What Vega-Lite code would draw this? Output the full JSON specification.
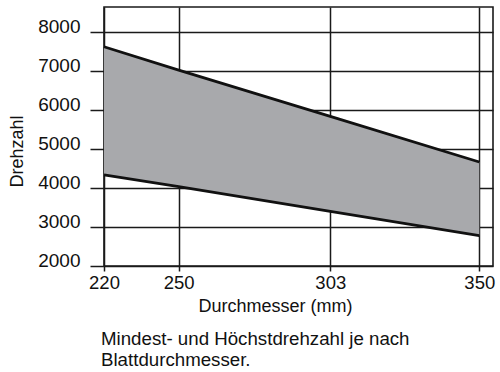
{
  "$schema": "https://vega.github.io/schema/vega-lite/v6.json",
  "width": 389,
  "height": 259,
  "autosize": {"type": "none"},
  "padding": {"left": 104, "top": 7, "right": 7, "bottom": 106},
  "background": "white",
  "config": {
    "view": {"stroke": "#1a1a1a", "strokeWidth": 1.6},
    "font": "Liberation Sans"
  },
  "title": {
    "text": ["Mindest- und Höchstdrehzahl je nach", "Blattdurchmesser."],
    "orient": "bottom",
    "anchor": "start",
    "frame": "group",
    "font": "Liberation Sans",
    "fontSize": 18.7,
    "fontWeight": "normal",
    "lineHeight": 21,
    "color": "#111111",
    "offset": 15,
    "dx": -3
  },
  "data": {
    "values": [
      {"d": 220, "min": 4340, "max": 7630},
      {"d": 250, "min": 4040, "max": 7030},
      {"d": 303, "min": 3400, "max": 5840},
      {"d": 350, "min": 2780, "max": 4670}
    ]
  },
  "encoding": {
    "x": {
      "field": "d",
      "type": "quantitative",
      "scale": {"type": "linear", "domain": [220, 250, 303, 350, 354.7], "range": [0, 74.7, 226.3, 375.3, 389], "nice": false, "zero": false},
      "axis": {
        "values": [220, 250, 303, 350],
        "format": "d",
        "grid": true,
        "gridColor": "#1a1a1a",
        "gridWidth": 1.5,
        "gridOpacity": 1,
        "domain": false,
        "ticks": true,
        "tickColor": "#1a1a1a",
        "tickWidth": 1.5,
        "tickSize": 5,
        "labelFontSize": 18.5,
        "labelColor": "#111111",
        "labelFlush": false,
        "labelOverlap": false,
        "labelBaseline": "alphabetic",
        "labelPadding": 17,
        "title": "Durchmesser (mm)",
        "titleFontSize": 18,
        "titleFontWeight": "normal",
        "titleColor": "#111111",
        "titleX": 171,
        "titleY": 45,
        "titleAlign": "center",
        "titleBaseline": "alphabetic"
      }
    }
  },
  "layer": [
    {
      "mark": {"type": "area", "color": "#a8a9ac", "opacity": 1},
      "encoding": {
        "y": {
          "field": "max",
          "type": "quantitative",
          "scale": {"domain": [2000, 8650], "nice": false, "zero": false},
          "axis": {
            "values": [2000, 3000, 4000, 5000, 6000, 7000, 8000],
            "format": "d",
            "grid": true,
            "gridColor": "#1a1a1a",
            "gridWidth": 1.5,
            "gridOpacity": 1,
            "domain": false,
            "tickColor": "#1a1a1a",
            "tickWidth": 1.5,
            "tickSize": 14,
            "labelFontSize": 19,
            "labelColor": "#111111",
            "labelFlush": false,
            "labelOverlap": false,
            "labelBaseline": "alphabetic",
            "labelPadding": 10,
            "title": "Drehzahl",
            "titleFontSize": 18,
            "titleFontWeight": "normal",
            "titleColor": "#111111",
            "titleAngle": -90,
            "titleX": -82,
            "titleY": 144,
            "titleAlign": "center",
            "titleBaseline": "alphabetic"
          }
        },
        "y2": {"field": "min"}
      }
    },
    {
      "mark": {"type": "line", "color": "#111111", "strokeWidth": 2.8},
      "encoding": {"y": {"field": "max", "type": "quantitative"}}
    },
    {
      "mark": {"type": "line", "color": "#111111", "strokeWidth": 2.8},
      "encoding": {"y": {"field": "min", "type": "quantitative"}}
    }
  ]
}
